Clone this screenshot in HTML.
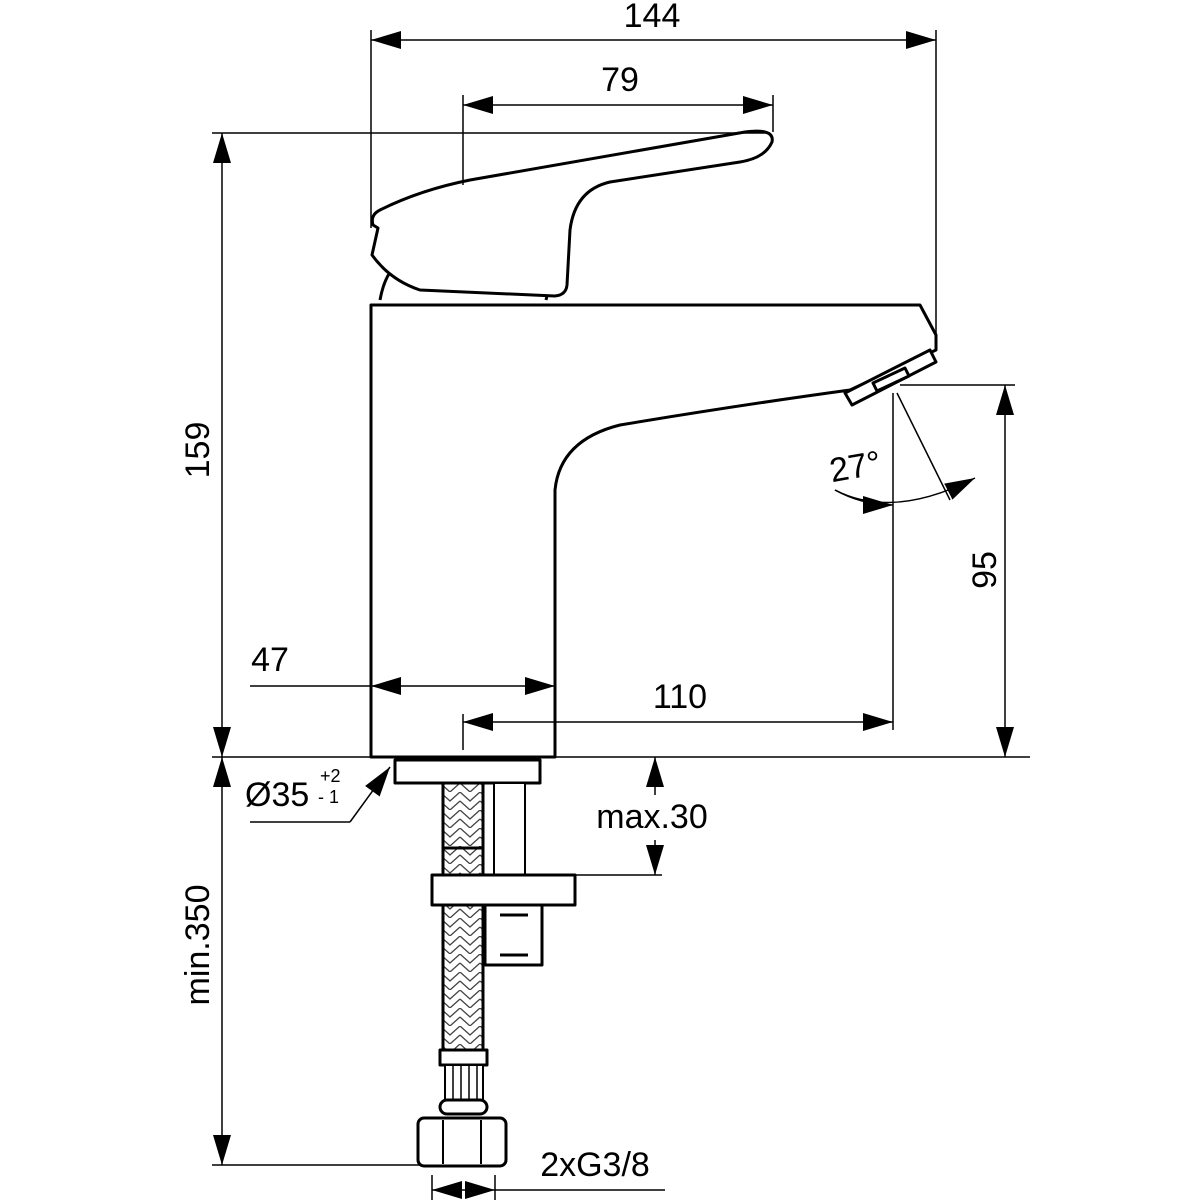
<!DOCTYPE html>
<html><head><meta charset="utf-8"><style>html,body{margin:0;padding:0;background:#fff}svg{display:block}text{font-family:"Liberation Sans",sans-serif;fill:#000}</style></head><body>
<svg width="1200" height="1200" viewBox="0 0 1200 1200" xmlns="http://www.w3.org/2000/svg">
<defs>
<marker id="a" viewBox="0 0 10 10" refX="10" refY="5" markerWidth="30" markerHeight="30" markerUnits="userSpaceOnUse" orient="auto-start-reverse"><path d="M0,2 L10,5 L0,8z" fill="#000"/></marker>
<pattern id="br" width="20" height="18" patternUnits="userSpaceOnUse"><path d="M0,0 L10,9 L20,0 M0,9 L10,18 L20,9" stroke="#444" stroke-width="1.3" fill="none"/></pattern>
</defs>
<g stroke="#000" stroke-width="3" fill="#fff" stroke-linejoin="round">
<!-- handle -->
<path d="M380,300 Q385,272 400,262 L550,262 Q550,285 546,300"/>
<path d="M378,228 L373,225 Q370,215 380,210 Q420,190 470,180 L745,132 Q775,128 772,142 Q765,158 740,162 L610,182 Q575,190 570,230 L567,285 Q566,295 555,296 L420,290 Q390,280 372,255 Z"/>
<!-- body -->
<path d="M371,305 L920,305 L936,335 L936,350 L850,390 Q740,405 620,425 Q560,440 555,490 L555,757 L371,757 Z"/>
<path d="M845,393 L930,350 L936,362 L852,405 Z"/>
<path d="M873,383 L905,368 L909,376 L877,391 Z"/>
<!-- under parts -->
<rect x="395" y="760" width="145" height="23"/>
<rect x="494" y="783" width="31" height="92" stroke-width="2"/>
<rect x="443" y="783" width="40" height="267" fill="url(#br)"/>
<line x1="443" y1="848" x2="483" y2="848"/>
<rect x="432" y="875" width="143" height="30"/>
<path d="M485,905 L542,905 L542,965 L485,965 Z M500,915 L528,915 M500,955 L528,955"/>
<rect x="440" y="1050" width="47" height="15"/>
<rect x="445" y="1065" width="38" height="35" stroke-width="2"/>
<path d="M453,1065 V1100 M461,1065 V1100 M469,1065 V1100 M477,1065 V1100" stroke-width="1.5"/>
<rect x="440" y="1100" width="47" height="14" rx="7"/>
<rect x="418" y="1118" width="88" height="48" rx="6"/>
<path d="M443,1120 L443,1164 M481,1120 L481,1164" stroke-width="2"/>
</g>
<g stroke="#000" stroke-width="1.5" fill="none">
<line x1="371" y1="30" x2="371" y2="228"/>
<line x1="936" y1="30" x2="936" y2="335"/>
<line x1="463" y1="95" x2="463" y2="185"/>
<line x1="773" y1="95" x2="773" y2="132"/>
<line x1="212" y1="133" x2="770" y2="133"/>
<line x1="212" y1="757" x2="1030" y2="757"/>
<line x1="900" y1="385" x2="1015" y2="385"/>
<line x1="463" y1="714" x2="463" y2="750"/>
<line x1="893" y1="393" x2="893" y2="730"/>
<line x1="897" y1="393" x2="950" y2="500"/>
<line x1="575" y1="875" x2="662" y2="875"/>
<line x1="212" y1="1165" x2="420" y2="1165"/>
<line x1="432" y1="1175" x2="432" y2="1200"/>
<line x1="495" y1="1175" x2="495" y2="1200"/>
<line x1="371" y1="40" x2="936" y2="40" marker-start="url(#a)" marker-end="url(#a)"/>
<line x1="463" y1="105" x2="773" y2="105" marker-start="url(#a)" marker-end="url(#a)"/>
<line x1="222" y1="133" x2="222" y2="757" marker-start="url(#a)" marker-end="url(#a)"/>
<line x1="222" y1="757" x2="222" y2="1165" marker-start="url(#a)" marker-end="url(#a)"/>
<line x1="1005" y1="385" x2="1005" y2="757" marker-start="url(#a)" marker-end="url(#a)"/>
<line x1="250" y1="686" x2="371" y2="686"/>
<line x1="371" y1="686" x2="555" y2="686" marker-start="url(#a)" marker-end="url(#a)"/>
<line x1="463" y1="722" x2="893" y2="722" marker-start="url(#a)" marker-end="url(#a)"/>
<line x1="655" y1="795" x2="655" y2="757" marker-end="url(#a)"/>
<line x1="655" y1="840" x2="655" y2="875" marker-end="url(#a)"/>
<line x1="432" y1="1190" x2="495" y2="1190" marker-start="url(#a)" marker-end="url(#a)"/>
<line x1="495" y1="1190" x2="665" y2="1190"/>
<path d="M835,490 Q893,520 975,478" marker-end="url(#a)"/>
<path d="M835,490 Q862,505 893,505" marker-end="url(#a)"/>
<line x1="250" y1="822" x2="350" y2="822"/>
<line x1="350" y1="822" x2="390" y2="767" marker-end="url(#a)"/>
</g>
<g font-size="34">
<text x="652" y="27" text-anchor="middle">144</text>
<text x="620" y="91" text-anchor="middle">79</text>
<text x="270" y="671" text-anchor="middle">47</text>
<text x="680" y="708" text-anchor="middle">110</text>
<text x="652" y="828" text-anchor="middle">max.30</text>
<text x="595" y="1176" text-anchor="middle">2xG3/8</text>
<text x="245" y="806">Ø35</text>
<text x="855" y="478" text-anchor="middle" transform="rotate(-10 855 465)">27°</text>
<text transform="translate(209,450) rotate(-90)" text-anchor="middle">159</text>
<text transform="translate(996,570) rotate(-90)" text-anchor="middle">95</text>
<text transform="translate(209,945) rotate(-90)" text-anchor="middle">min.350</text>
</g>
<text x="320" y="782" font-size="18">+2</text>
<text x="318" y="803" font-size="18">- 1</text>
</svg>
</body></html>
